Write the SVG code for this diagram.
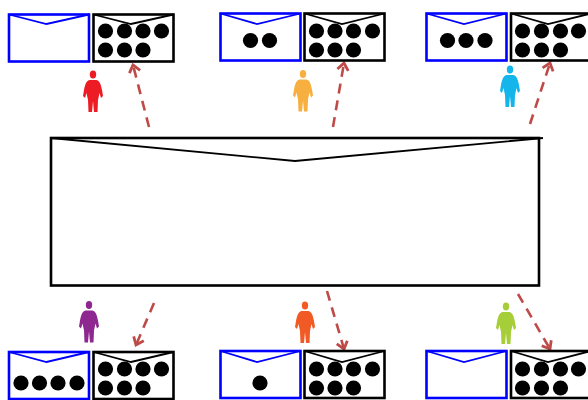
<svg xmlns="http://www.w3.org/2000/svg" width="588" height="400" viewBox="0 0 588 400">
<style>
.b{fill:#fff;stroke:#00f;stroke-width:2.6}
.k{fill:#fff;stroke:#000;stroke-width:2.6}
.fb{fill:none;stroke:#00f;stroke-width:1.8}
.fk{fill:none;stroke:#000;stroke-width:1.8}
.d{fill:#000}
.c{fill:none;stroke:#be4b48;stroke-width:2.6;stroke-dasharray:10 7;marker-end:url(#a)}
</style>
<defs>
<marker id="a" markerUnits="userSpaceOnUse" markerWidth="16" markerHeight="16" refX="12" refY="8" orient="auto">
<path d="M5 2.500L12 8L5 13.500" fill="none" stroke="#be4b48" stroke-width="2.800"/>
</marker>
<g id="p">
<ellipse cx="0" cy="4.500" rx="3.200" ry="4"/>
<path d="M-3.500 10C-7 11-8 15-9 20L-10 26L-8 28L-6.500 23L-5 30L-4.500 42L-1 42L0 31L1 42L4.500 42L5 30L6.500 23L8 28L10 26L9 20C8 15 7 11 3.500 10Z"/>
</g>
<circle id="o" r="7.600" class="d"/>
</defs>
<g id="connectors">
<path class="c" d="M149 127L133 65"/>
<path class="c" d="M333 127L344 63"/>
<path class="c" d="M530 124L550 63"/>
<path class="c" d="M154 303L136 345"/>
<path class="c" d="M327 291L344 349"/>
<path class="c" d="M518 294L550 349"/>
</g>
<g id="main">
<rect x="51" y="138" width="488" height="147.500" fill="#fff" stroke="#000" stroke-width="2.600"/>
<path d="M51 138L295 161L543 138" fill="none" stroke="#000" stroke-width="1.800"/>
</g>
<g id="person-red"><use href="#p" x="93" y="70" fill="#ed1c24"/></g>
<g id="person-orange"><use href="#p" x="303" y="69.500" fill="#f7b040"/></g>
<g id="person-blue"><use href="#p" x="510" y="65" fill="#13b5ea"/></g>
<g id="person-purple"><use href="#p" x="89" y="300.500" fill="#8e278f"/></g>
<g id="person-vermilion"><use href="#p" x="305" y="301" fill="#f15a24"/></g>
<g id="person-green"><use href="#p" x="506" y="302" fill="#a6ce39"/></g>

<g id="top-left-a"><rect class="b" x="9" y="14.500" width="80" height="47"/><path class="fb" d="M9 14.500L46.500 24L89 14.500"/></g>
<g id="top-left-b"><rect class="k" x="93.500" y="14.500" width="80" height="47"/><path class="fk" d="M93.500 14.500L131 24L173.500 14.500"/>
<use href="#o" x="105.500" y="31"/><use href="#o" x="124.500" y="31"/><use href="#o" x="143" y="31"/><use href="#o" x="161.500" y="31"/><use href="#o" x="105.500" y="50"/><use href="#o" x="124.500" y="50"/><use href="#o" x="143" y="50"/></g>

<g id="top-mid-a"><rect class="b" x="220.500" y="13.500" width="80" height="47"/><path class="fb" d="M220.500 13.500L257 24L300.500 13.500"/>
<use href="#o" x="250.500" y="40.500"/><use href="#o" x="269.500" y="40.500"/></g>
<g id="top-mid-b"><rect class="k" x="304.500" y="13.500" width="80" height="47"/><path class="fk" d="M304.500 13.500L342 24L384.500 13.500"/>
<use href="#o" x="316.500" y="31"/><use href="#o" x="335" y="31"/><use href="#o" x="353.500" y="31"/><use href="#o" x="372.500" y="31"/><use href="#o" x="316.500" y="50"/><use href="#o" x="335" y="50"/><use href="#o" x="353.500" y="50"/></g>

<g id="top-right-a"><rect class="b" x="426.500" y="13.500" width="80" height="47"/><path class="fb" d="M426.500 13.500L464 24L506.500 13.500"/>
<use href="#o" x="447.500" y="40.500"/><use href="#o" x="466" y="40.500"/><use href="#o" x="485" y="40.500"/></g>
<g id="top-right-b"><rect class="k" x="511" y="13.500" width="80" height="47"/><path class="fk" d="M511 13.500L548 24L591 13.500"/>
<use href="#o" x="522.500" y="31"/><use href="#o" x="541.500" y="31"/><use href="#o" x="560.500" y="31"/><use href="#o" x="578.500" y="31"/><use href="#o" x="522.500" y="50"/><use href="#o" x="541.500" y="50"/><use href="#o" x="560.500" y="50"/></g>

<g id="bottom-left-a"><rect class="b" x="9" y="352" width="80" height="47"/><path class="fb" d="M9 352L46.500 362L89 352"/>
<use href="#o" x="21" y="383"/><use href="#o" x="39.500" y="383"/><use href="#o" x="58" y="383"/><use href="#o" x="77" y="383"/></g>
<g id="bottom-left-b"><rect class="k" x="93.500" y="352" width="80" height="47"/><path class="fk" d="M93.500 352L131 362L173.500 352"/>
<use href="#o" x="105.500" y="369"/><use href="#o" x="124.500" y="369"/><use href="#o" x="143" y="369"/><use href="#o" x="161.500" y="369"/><use href="#o" x="105.500" y="388"/><use href="#o" x="124.500" y="388"/><use href="#o" x="143" y="388"/></g>

<g id="bottom-mid-a"><rect class="b" x="220.500" y="351" width="80" height="47"/><path class="fb" d="M220.500 351L257 362L300.500 351"/>
<use href="#o" x="260" y="383"/></g>
<g id="bottom-mid-b"><rect class="k" x="304.500" y="351" width="80" height="47"/><path class="fk" d="M304.500 351L342 362L384.500 351"/>
<use href="#o" x="316.500" y="369"/><use href="#o" x="335" y="369"/><use href="#o" x="353.500" y="369"/><use href="#o" x="372.500" y="369"/><use href="#o" x="316.500" y="388"/><use href="#o" x="335" y="388"/><use href="#o" x="353.500" y="388"/></g>

<g id="bottom-right-a"><rect class="b" x="426.500" y="351" width="80" height="47"/><path class="fb" d="M426.500 351L464 362L506.500 351"/></g>
<g id="bottom-right-b"><rect class="k" x="511" y="351" width="80" height="47"/><path class="fk" d="M511 351L548 362L591 351"/>
<use href="#o" x="522.500" y="369"/><use href="#o" x="541.500" y="369"/><use href="#o" x="560.500" y="369"/><use href="#o" x="578.500" y="369"/><use href="#o" x="522.500" y="388"/><use href="#o" x="541.500" y="388"/><use href="#o" x="560.500" y="388"/></g>
</svg>
